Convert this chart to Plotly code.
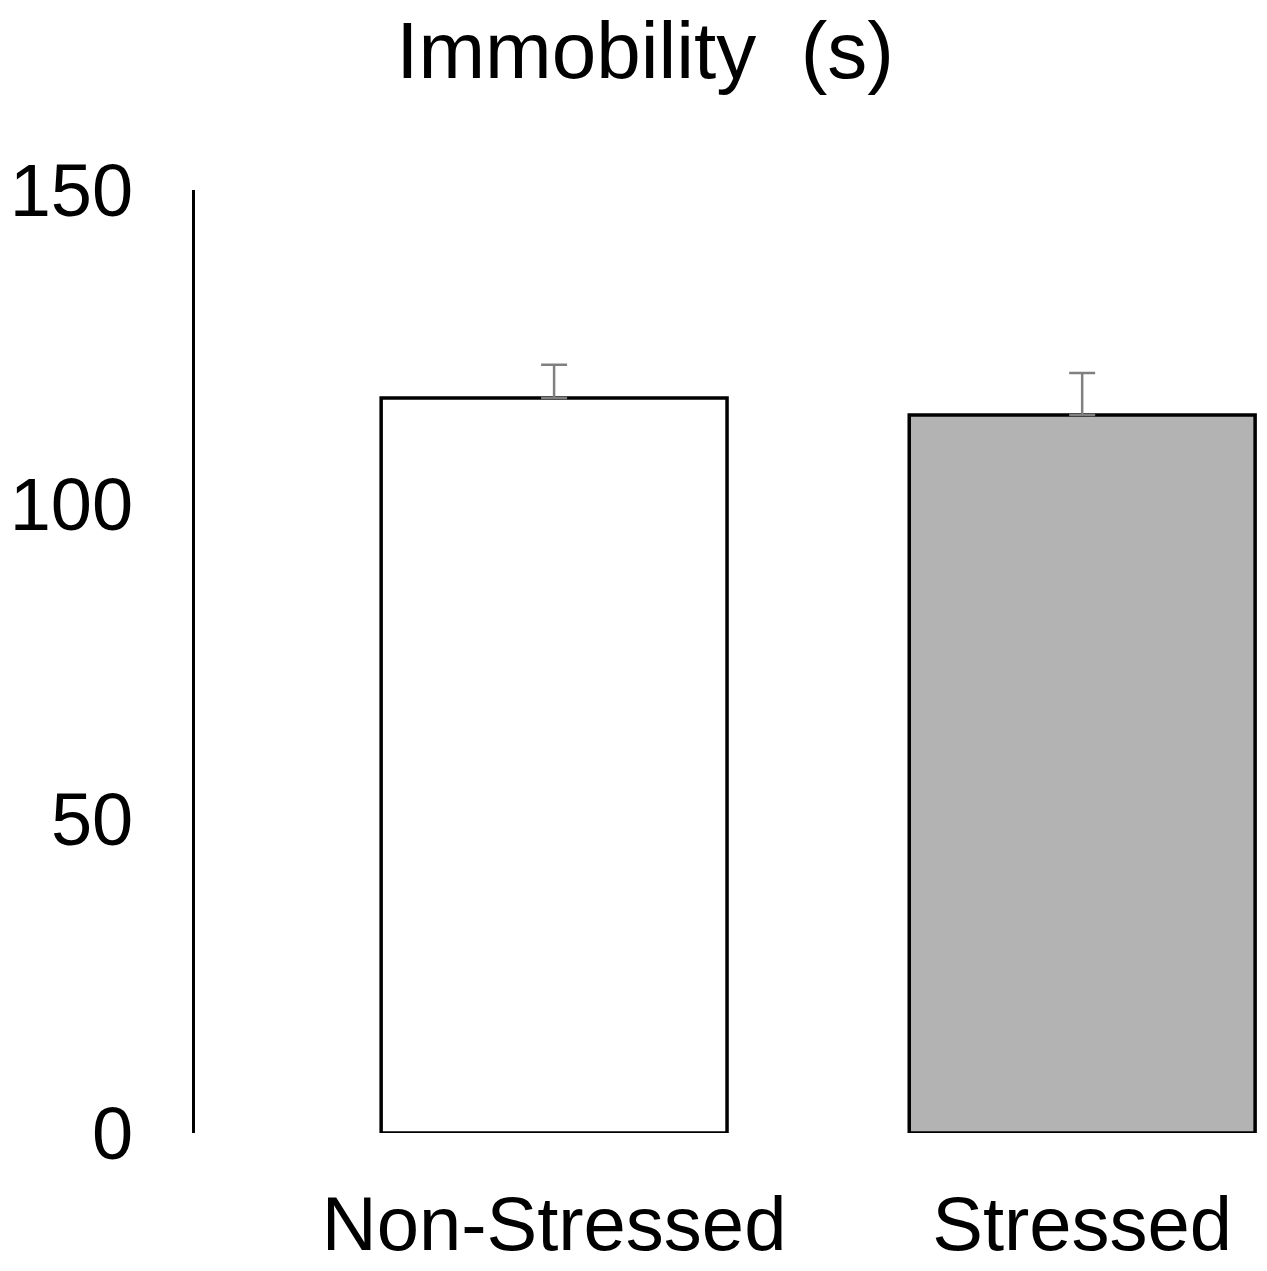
import plotly.graph_objects as go

# values
groups = ['Non-Stressed', 'Stressed']
immobility = [116.9, 114.2]
sem = [5.3, 6.7]
fill_colors = ['#ffffff', '#b3b3b3']
y_ticks = [0, 50, 100, 150]

# the page body adds an 8px margin, so the figure is 8px smaller than the window
fig = go.Figure(
    data=[
        go.Bar(
            x=groups,
            y=immobility,
            width=0.655,
            marker=dict(color=fill_colors, line=dict(color='#000000', width=3.5)),
            error_y=dict(type='data', array=sem, symmetric=False, arrayminus=[0, 0],
                         color='#808080', thickness=2.5, width=13),
            showlegend=False,
        )
    ],
    layout=go.Layout(
        width=1259,
        height=1263,
        margin=dict(l=187, r=0, t=182, b=138),
        paper_bgcolor='white',
        plot_bgcolor='white',
        font=dict(family='Liberation Sans, Arial, sans-serif', color='#000000'),
        title=dict(
            text='Immobility\u00a0\u00a0(s)',
            font=dict(size=80, color='#000000'),
            xref='container', yref='container',
            x=0.506, y=0.967, xanchor='center', yanchor='middle',
        ),
        xaxis=dict(
            range=[-0.68, 1.35],
            automargin=False,
            showline=False,
            showgrid=False,
            zeroline=False,
            ticks='',
            tickfont=dict(size=76),
            ticklabelstandoff=40,
        ),
        yaxis=dict(
            range=[0, 150],
            tickvals=y_ticks,
            automargin=False,
            showline=True,
            linecolor='#000000',
            linewidth=3,
            showgrid=False,
            zeroline=False,
            ticks='',
            tickfont=dict(size=74),
            ticklabelstandoff=44,
        ),
    ),
)

fig.write_html('out.html')
